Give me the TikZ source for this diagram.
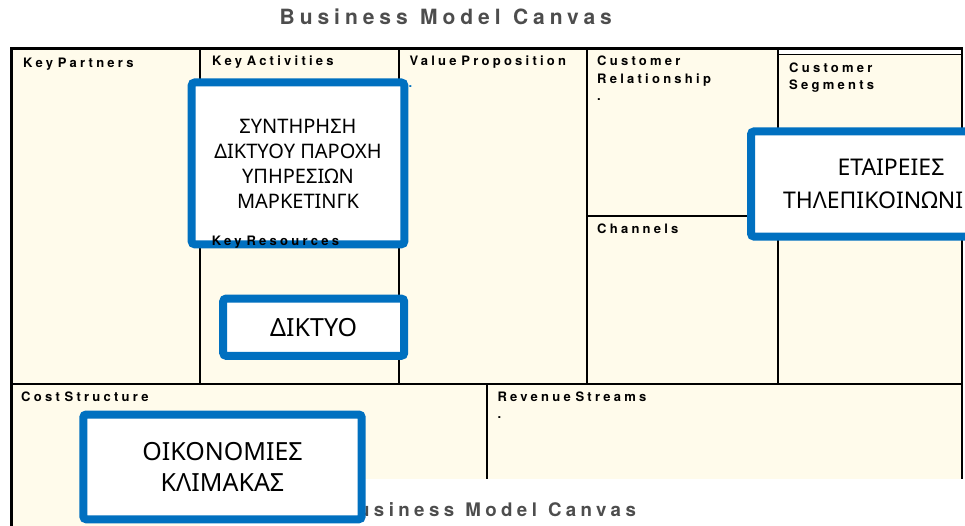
\documentclass[tikz,border=0pt]{standalone}
\usepackage{fontspec}
\setmainfont{Liberation Sans}
\newfontfamily\greekfont{Noto Sans}
\newfontfamily\headfont[LetterSpace=25,WordSpace=0.7,Extension=.otf,UprightFont=*-bold]{texgyreheros}
\newfontfamily\titlefont[LetterSpace=23.6,WordSpace=1.15,Extension=.otf,UprightFont=*-bold]{texgyreheros}
\definecolor{canvascream}{RGB}{255,251,235}
\definecolor{noteblue}{RGB}{0,112,192}
\definecolor{titlegray}{RGB}{77,77,77}
\tikzset{
  cell/.style={anchor=base west, inner sep=0pt, align=left,
    font=\headfont\fontsize{13}{17.5}\selectfont},
  heading/.style={anchor=base west, inner sep=0pt, text=titlegray},
  notebox/.style={draw=noteblue, line width=8pt, fill=white, rounded corners=3pt,
    inner sep=0pt, outer sep=0pt, align=center},
  divider/.style={line width=1.6pt}
}
\begin{document}
\begin{tikzpicture}[x=1pt,y=-1pt]
  \clip (0,0) rectangle (965,526);
  \fill[white] (0,0) rectangle (965,526);

  % canvas grid
  \fill[canvascream] (11.5,48.5) rectangle (962,526);
  \fill[white] (778,50) rectangle (961,53.6);
  \draw[divider] (11.5,384) -- (962,384);
  \foreach \x in {200,399,586.7,778}
    \draw[divider] (\x,48.5) -- (\x,384);
  \draw[divider] (486.7,384) -- (486.7,478.5);
  \draw[divider] (586.7,216) -- (778,216);
  \draw[divider] (200,232) -- (399,232);
  \draw[line width=1pt] (778,54.3) -- (962,54.3);
  \draw[line width=2pt] (962,48.5) -- (962,478.5);
  \draw[line width=2.5pt] (10,48.5) -- (963,48.5);
  \draw[line width=3pt] (11.5,47.5) -- (11.5,526);

  % block names (multi-line ones sit on their last baseline)
  \node[cell] (partners) at (23,67.7) {Key Partners};
  \node[cell] (activities) at (212,66) {Key Activities};
  \node[cell] (value) at (409.3,66) {Value Proposition};
  \node[cell, text=noteblue] (valuedot) at (408.5,88) {.};
  \node[cell] (relation) at (597,101) {Customer\\Relationship\\.};
  \node[cell] (segments) at (789,90) {Customer\\Segments};
  \node[cell] (channels) at (597,234) {Channels};
  \node[cell] (cost) at (21,401.7) {Cost Structure};
  \node[cell] (revenue) at (497.3,418.5) {Revenue Streams\\.};

  % titles
  \node[heading, font=\titlefont\fontsize{21}{25}\selectfont] (title) at (279.5,25) {Business Model Canvas};
  \fill[white] (200,478.5) rectangle (965,526);
  \node[heading, font=\titlefont\fontsize{18.7}{22}\selectfont] (subtitle) at (340,516) {Business Model Canvas};

  % notes
  \node[notebox, minimum width=212.6pt, minimum height=161.8pt,
    font=\greekfont\fontsize{20}{25}\selectfont] (activitynote) at (298,163.4)
    {ΣΥΝΤΗΡΗΣΗ\\ΔΙΚΤΥΟΥ ΠΑΡΟΧΗ\\ΥΠΗΡΕΣΙΩΝ\\ΜΑΡΚΕΤΙΝΓΚ};
  \node[notebox, minimum width=181pt, minimum height=57.3pt,
    font=\greekfont\fontsize{25}{33}\selectfont] (resourcenote) at (313.7,327.2) {ΔΙΚΤΥΟ};
  \node[notebox, anchor=west, align=left, inner xsep=32pt, minimum height=105.1pt,
    font=\greekfont\fontsize{23}{33}\selectfont] (segmentnote) at (751,184)
    {\hspace*{54.5pt}ΕΤΑΙΡΕΙΕΣ\\ΤΗΛΕΠΙΚΟΙΝΩΝΙ};
  \node[notebox, minimum width=278.4pt, minimum height=104.8pt,
    font=\greekfont\fontsize{25}{31}\selectfont] (costnote) at (222.5,466.9)
    {ΟΙΚΟΝΟΜΙΕΣ\\ΚΛΙΜΑΚΑΣ};

  \node[cell] (resources) at (211.7,246) {Key Resources};
\end{tikzpicture}
\end{document}
